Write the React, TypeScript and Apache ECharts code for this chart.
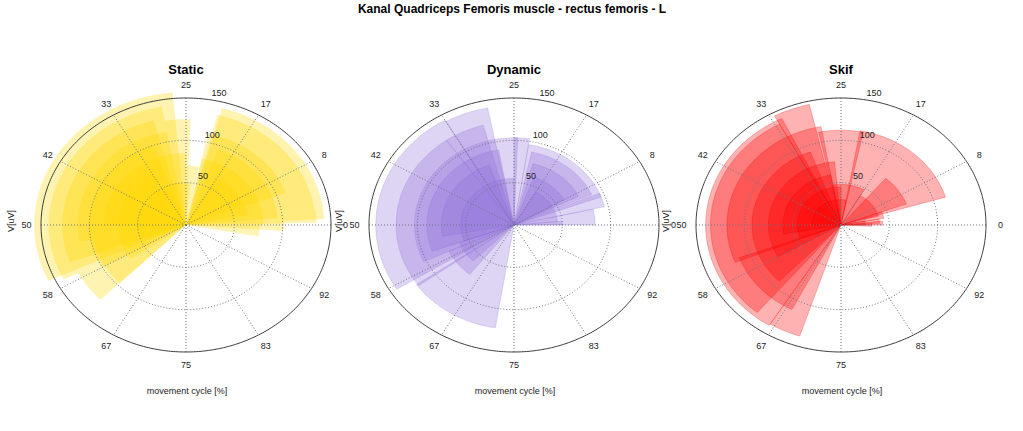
import React, { useEffect, useRef } from 'react';
import * as echarts from 'echarts';

const mainTitle = 'Kanal Quadriceps Femoris muscle - rectus femoris - L';
const panelTitles = ['Static', 'Dynamic', 'Skif'];
const angleTickLabels = ['0', '8', '17', '25', '33', '42', '50', '58', '67', '75', '83', '92'];
const angleTickPct = [0, 8.333, 16.667, 25, 33.333, 41.667, 50, 58.333, 66.667, 75, 83.333, 91.667];
const radialTicks = [50, 100, 150];
const rMax = 150;
const xAxisName = 'movement cycle [%]';
const yAxisName = 'V[uV]';

// each bar: [start of cycle %, end of cycle %, amplitude uV]
const staticBars = [
  [-2.8, 0, 76],
  [-1.1, 0.8, 101],
  [0.3, 2.2, 135],
  [0.8, 20.8, 143],
  [2.2, 21.1, 134],
  [0, 21.7, 80],
  [1.4, 19.4, 95],
  [2.8, 16.7, 65],
  [5.6, 21.7, 110],
  [21.9, 24.7, 70],
  [24.4, 27.8, 125],
  [26.4, 56.9, 157],
  [27.8, 57.5, 142],
  [29.2, 55.6, 128],
  [27.8, 52.8, 112],
  [30.6, 58.3, 100],
  [57.5, 62.5, 125],
  [52.8, 62.5, 97],
  [25, 50, 85],
  [33.3, 59.7, 70],
  [23.6, 55.6, 50],
];

const dynamicBars = [
  [0, 3.6, 84],
  [0, 1.4, 50],
  [3.6, 6.4, 96],
  [5.6, 22.5, 96],
  [6.7, 21.7, 88],
  [7.5, 20.8, 75],
  [8.3, 19.4, 60],
  [1.4, 16.7, 45],
  [22.5, 25, 103],
  [24.4, 56.9, 103],
  [28.1, 33.3, 141],
  [29.2, 34.7, 122],
  [33.3, 58.9, 143],
  [34.7, 60, 122],
  [27.8, 55.6, 90],
  [30.6, 52.8, 75],
  [25, 55.6, 55],
  [59.7, 72.5, 123],
  [56.9, 64.4, 74],
  [55.6, 62.5, 60],
];

const skifBars = [
  [-0.8, 0.8, 32],
  [0, 1.7, 43],
  [0.8, 2.8, 40],
  [0, 3.3, 25],
  [2.8, 5.6, 45],
  [5.6, 13.9, 72],
  [4.7, 22.2, 113],
  [21.7, 28.3, 112],
  [4.2, 16.7, 40],
  [16.7, 27.8, 48],
  [28.6, 32.8, 146],
  [32.2, 66.1, 140],
  [32.8, 63.9, 135],
  [66.1, 70, 138],
  [27.8, 56.1, 118],
  [30.6, 62.8, 92],
  [55.6, 67.5, 112],
  [26.4, 58.3, 75],
  [27.8, 52.8, 60],
  [25, 55.6, 45],
  [22.2, 50, 30],
];

const DEG = Math.PI / 180;
const FONT = '"Liberation Sans", Arial, Helvetica, sans-serif';

const panels = [
  { title: panelTitles[0], bars: staticBars, fill: 'rgba(255,215,0,0.3)', stroke: 'none', cx: 186 },
  { title: panelTitles[1], bars: dynamicBars, fill: 'rgba(147,112,219,0.3)', stroke: 'rgba(120,90,200,0.3)', cx: 514 },
  { title: panelTitles[2], bars: skifBars, fill: 'rgba(255,0,0,0.3)', stroke: 'rgba(220,0,0,0.4)', cx: 841 },
];
const CY = 225;
const RX = 145;
const RY = 127;

function sectorRender(fill: string, stroke: string) {
  return (_params: any, api: any) => {
    const a0 = api.value(0) * 3.6 * DEG;
    const a1 = api.value(1) * 3.6 * DEG;
    const r = api.value(2);
    const steps = Math.max(2, Math.ceil(Math.abs(a1 - a0) / DEG));
    const pts: number[][] = [api.coord([0, 0])];
    for (let k = 0; k <= steps; k++) {
      const a = a0 + ((a1 - a0) * k) / steps;
      pts.push(api.coord([r * Math.cos(a), r * Math.sin(a)]));
    }
    return {
      type: 'polygon',
      shape: { points: pts },
      style: { fill, stroke, lineWidth: stroke === 'none' ? 0 : 0.6 },
    };
  };
}

function ringRender(_params: any, api: any) {
  const v = api.value(0);
  const pts: number[][] = [];
  for (let k = 0; k <= 360; k++) {
    const a = k * DEG;
    pts.push(api.coord([v * Math.cos(a), v * Math.sin(a)]));
  }
  const outer = v >= rMax;
  const c82 = Math.cos(82 * DEG);
  const s82 = Math.sin(82 * DEG);
  const p = api.coord([(v + 2.5) * c82, (v + 2.5) * s82]);
  return {
    type: 'group',
    children: [
      {
        type: 'polyline',
        shape: { points: pts },
        style: {
          stroke: outer ? '#3c3c3c' : '#6e7585',
          lineWidth: 1,
          lineDash: outer ? null : [1, 2],
          fill: 'none',
        },
      },
      {
        type: 'text',
        x: p[0],
        y: p[1],
        style: {
          text: '  ' + v,
          font: '9px ' + FONT,
          fill: '#222',
          align: 'left',
          verticalAlign: 'bottom',
        },
      },
    ],
  };
}

function spokeRender(_params: any, api: any) {
  const a = api.value(0) * 3.6 * DEG;
  const label = angleTickLabels[api.value(1)];
  const c = api.coord([0, 0]);
  const e = api.coord([rMax * Math.cos(a), rMax * Math.sin(a)]);
  const t = api.coord([1.1 * rMax * Math.cos(a), 1.1 * rMax * Math.sin(a)]);
  return {
    type: 'group',
    children: [
      {
        type: 'line',
        shape: { x1: c[0], y1: c[1], x2: e[0], y2: e[1] },
        style: { stroke: '#6e7585', lineWidth: 1, lineDash: [1, 2] },
      },
      {
        type: 'text',
        x: t[0],
        y: t[1],
        style: {
          text: label,
          font: '9px ' + FONT,
          fill: '#222',
          align: 'center',
          verticalAlign: 'middle',
        },
      },
    ],
  };
}

export default function App() {
  const ref = useRef<HTMLDivElement>(null);
  useEffect(() => {
    if (!ref.current) return;
    const chart = echarts.init(ref.current, undefined, { renderer: 'svg' });
    const series: any[] = [];
    panels.forEach((p, i) => {
      series.push({
        type: 'custom',
        coordinateSystem: 'cartesian2d',
        xAxisIndex: i,
        yAxisIndex: i,
        silent: true,
        z: 2,
        renderItem: sectorRender(p.fill, p.stroke),
        data: p.bars,
      });
      series.push({
        type: 'custom',
        coordinateSystem: 'cartesian2d',
        xAxisIndex: i,
        yAxisIndex: i,
        silent: true,
        z: 3,
        renderItem: spokeRender,
        data: angleTickPct.map((v, k) => [v, k]),
      });
      series.push({
        type: 'custom',
        coordinateSystem: 'cartesian2d',
        xAxisIndex: i,
        yAxisIndex: i,
        silent: true,
        z: 4,
        renderItem: ringRender,
        data: radialTicks.map((v) => [v]),
      });
    });
    const graphic: any[] = [
      {
        type: 'text',
        x: 512,
        y: 9,
        style: { text: mainTitle, font: 'bold 12px ' + FONT, fill: '#000', align: 'center', verticalAlign: 'middle' },
      },
    ];
    panels.forEach((p) => {
      graphic.push({
        type: 'text',
        x: p.cx,
        y: 69,
        style: { text: p.title, font: 'bold 13px ' + FONT, fill: '#000', align: 'center', verticalAlign: 'middle' },
      });
      graphic.push({
        type: 'text',
        x: p.cx + 1,
        y: 391,
        style: { text: xAxisName, font: '9px ' + FONT, fill: '#222', align: 'center', verticalAlign: 'middle' },
      });
      graphic.push({
        type: 'text',
        x: p.cx - 175,
        y: 221,
        rotation: Math.PI / 2,
        style: { text: yAxisName, font: '9px ' + FONT, fill: '#222', align: 'center', verticalAlign: 'middle' },
      });
    });
    chart.setOption({
      animation: false,
      backgroundColor: '#fff',
      grid: panels.map((p) => ({ left: p.cx - RX, top: CY - RY, width: 2 * RX, height: 2 * RY })),
      xAxis: panels.map((_p, i) => ({ type: 'value', gridIndex: i, min: -rMax, max: rMax, show: false })),
      yAxis: panels.map((_p, i) => ({ type: 'value', gridIndex: i, min: -rMax, max: rMax, show: false })),
      graphic,
      series,
    });
    return () => chart.dispose();
  }, []);
  return <div ref={ref} style={{ position: 'fixed', left: 0, top: 0, width: 1023, height: 431 }} />;
}
